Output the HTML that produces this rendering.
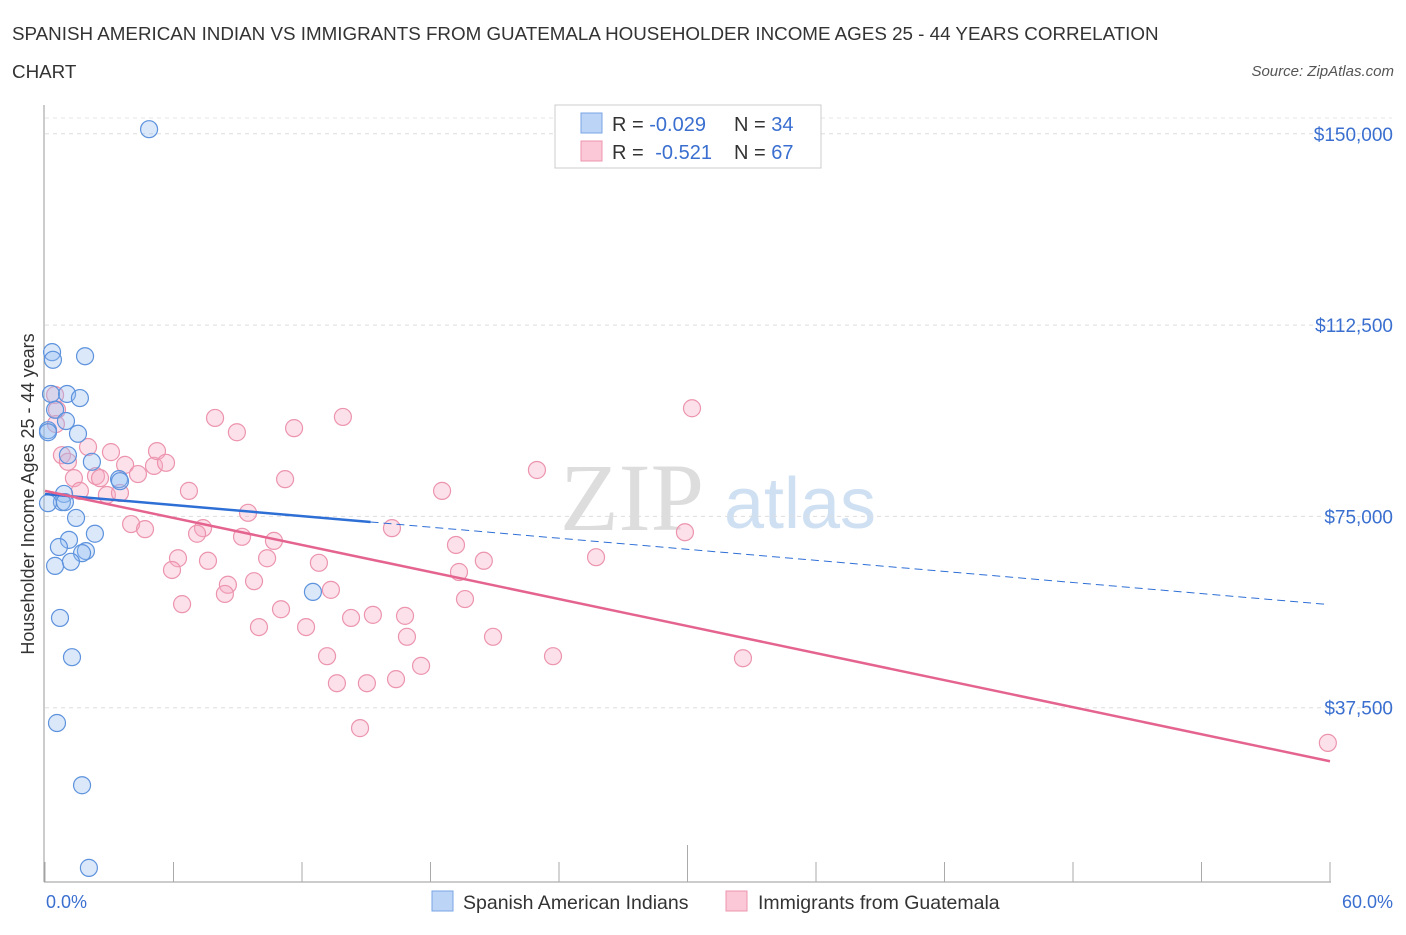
<!DOCTYPE html>
<html><head><meta charset="utf-8"><style>
body{margin:0;background:#fff;font-family:"Liberation Sans",sans-serif}
svg text{font-family:"Liberation Sans",sans-serif}
</style></head><body>
<svg id="chart" width="1406" height="930" xmlns="http://www.w3.org/2000/svg">
<text x="12" y="40" font-size="18.8" fill="#333">SPANISH AMERICAN INDIAN VS IMMIGRANTS FROM GUATEMALA HOUSEHOLDER INCOME AGES 25 - 44 YEARS CORRELATION</text>
<text x="12" y="78" font-size="18.8" fill="#333">CHART</text>
<text x="1394" y="76" font-size="15" fill="#555" font-style="italic" text-anchor="end">Source: ZipAtlas.com</text>
<g>
<text x="632" y="530" font-size="96" fill="#ddd" text-anchor="middle" style="font-family:'Liberation Serif',serif">ZIP</text>
<text x="800" y="528" font-size="72" fill="#cfe0f3" text-anchor="middle">atlas</text>
</g>
<g id="grid"></g>
<g id="axes"></g>
<g id="pts"></g>
<g id="trends"></g>
<text transform="translate(34,494) rotate(-90)" font-size="18" fill="#333" text-anchor="middle">Householder Income Ages 25 - 44 years</text>
<text x="46" y="908" font-size="18" fill="#3a6fd0">0.0%</text>
<text x="1393" y="908" font-size="18" fill="#3a6fd0" text-anchor="end">60.0%</text>
<g>
<rect x="555" y="105" width="266" height="63" fill="#fff" stroke="#ccc"/>
<rect x="581" y="113" width="21" height="20" fill="#bcd4f6" stroke="#7aa5e4"/>
<rect x="581" y="141" width="21" height="20" fill="#fac8d6" stroke="#ec94ae"/>
<text x="612" y="131" font-size="20" fill="#333">R = <tspan fill="#3a6fd0">-0.029</tspan></text>
<text x="734" y="131" font-size="20" fill="#333">N = <tspan fill="#3a6fd0">34</tspan></text>
<text x="612" y="159" font-size="20" fill="#333">R = <tspan fill="#3a6fd0" dx="6">-0.521</tspan></text>
<text x="734" y="159" font-size="20" fill="#333">N = <tspan fill="#3a6fd0">67</tspan></text>
</g>
<g>
<rect x="432" y="891" width="21" height="20" fill="#bcd4f6" stroke="#7aa5e4"/>
<text x="463" y="909" font-size="19.5" fill="#333">Spanish American Indians</text>
<rect x="726" y="891" width="21" height="20" fill="#fac8d6" stroke="#ec94ae"/>
<text x="758" y="909" font-size="19.5" fill="#333">Immigrants from Guatemala</text>
</g>
</svg>
<script>
const yTicks=[37500,75000,112500,150000];
const yTickLabels=["$37,500","$75,000","$112,500","$150,000"];
const blueX=[4.86,0.33,0.37,1.87,0.28,1.03,1.63,0.47,0.98,0.14,1.54,1.07,2.19,3.46,3.50,0.89,0.79,0.93,1.45,2.33,1.12,0.65,1.91,1.73,0.47,1.21,0.70,1.26,0.56,1.73,2.05,12.51,0.14,0.14];
const blueY=[150900,107200,105700,106400,99000,99000,98200,95900,93700,91900,91200,87000,85700,82300,81900,79400,77800,77800,74700,71600,70400,69000,68200,67800,65300,66100,55100,47400,34500,22300,6100,60200,77600,91500];
const pinkX=[0.47,0.56,0.51,0.79,1.07,2.01,1.35,1.63,2.38,2.57,3.08,3.74,2.89,3.50,4.34,4.02,4.67,5.09,5.23,5.65,6.72,7.94,8.96,11.63,13.91,11.21,9.48,7.38,7.10,6.21,5.93,7.61,6.40,8.54,8.40,9.76,9.20,10.37,10.69,12.79,11.02,9.99,12.19,13.35,14.29,15.31,16.81,16.90,13.17,13.63,15.03,16.39,17.56,14.71,16.20,18.54,19.19,19.33,19.61,20.49,20.92,23.72,22.97,25.73,29.88,30.21,32.59,59.90];
const pinkY=[98800,95900,93100,87000,85700,88600,82500,80000,82900,82500,87600,85100,79200,79600,83300,73500,72500,84900,87800,85500,80000,94300,91500,92300,94500,82300,75700,72700,71600,66800,64500,66300,57800,61600,59800,62300,71000,66800,70200,65900,56800,53300,53300,60600,55100,55700,55500,51400,47600,42300,42300,43100,45700,33500,72700,80000,69400,64100,58800,66300,51400,47600,84100,67000,71900,96200,47200,30600];
const blueTrend=[79400,57700];
const pinkTrend=[80000,27000];
const NS="http://www.w3.org/2000/svg";
const xs=v=>45+v*(1285/60);
const ys=v=>899-v*(191.3/37500);
function mk(t,a,p){const e=document.createElementNS(NS,t);for(const k in a)e.setAttribute(k,a[k]);p.appendChild(e);return e;}
const gridG=document.getElementById('grid'),axesG=document.getElementById('axes');
yTicks.forEach((v,i)=>{
 const l=mk('line',{x1:45,x2:1392,y1:ys(v),y2:ys(v),stroke:'#ddd','stroke-dasharray':'4,4'},gridG);
 
 
 const t=mk('text',{x:1393,y:ys(v)+7,'font-size':19,fill:'#3a6fd0','text-anchor':'end'},gridG);
 t.textContent=yTickLabels[i];
 
 
});
const topLine=mk('line',{x1:45,x2:1392,y1:118,y2:118,stroke:'#e4e4e4','stroke-dasharray':'4,4'},gridG);


const ya=mk('line',{x1:44,x2:44,y1:105,y2:882,stroke:'#999'},axesG);


const xa=mk('line',{x1:44,x2:1331,y1:882,y2:882,stroke:'#999'},axesG);


for(let i=0;i<=10;i++){
 const x=xs(i*6);
 const tk=mk('line',{x1:x,x2:x,y1:i==5?845:862,y2:882,stroke:'#aaa'},axesG);
 
 
}
const ptsG=document.getElementById('pts');
pinkX.forEach((x,i)=>{
 const c=mk('circle',{cx:xs(x),cy:ys(pinkY[i]),r:8.5,fill:'rgba(247,170,195,0.35)',stroke:'#ec94ae','stroke-width':1.2},ptsG);
 
 
});
blueX.forEach((x,i)=>{
 const c=mk('circle',{cx:xs(x),cy:ys(blueY[i]),r:8.5,fill:'rgba(150,190,240,0.35)',stroke:'#5d92dd','stroke-width':1.2},ptsG);
 
 
});
const trG=document.getElementById('trends');
const by=x=>blueTrend[0]+(blueTrend[1]-blueTrend[0])*x/60;
const py=x=>pinkTrend[0]+(pinkTrend[1]-pinkTrend[0])*x/60;
const b1=mk('line',{x1:xs(0),y1:ys(by(0)),x2:xs(15.2),y2:ys(by(15.2)),stroke:'#2e6fd6','stroke-width':2.5},trG);


const b2=mk('line',{x1:xs(15.2),y1:ys(by(15.2)),x2:xs(59.8),y2:ys(by(59.8)),stroke:'#2e6fd6','stroke-width':1,'stroke-dasharray':'8,5'},trG);


const p1=mk('line',{x1:xs(0),y1:ys(py(0)),x2:xs(60),y2:ys(py(60)),stroke:'#e4648f','stroke-width':2.5},trG);


</script>
</body></html>
